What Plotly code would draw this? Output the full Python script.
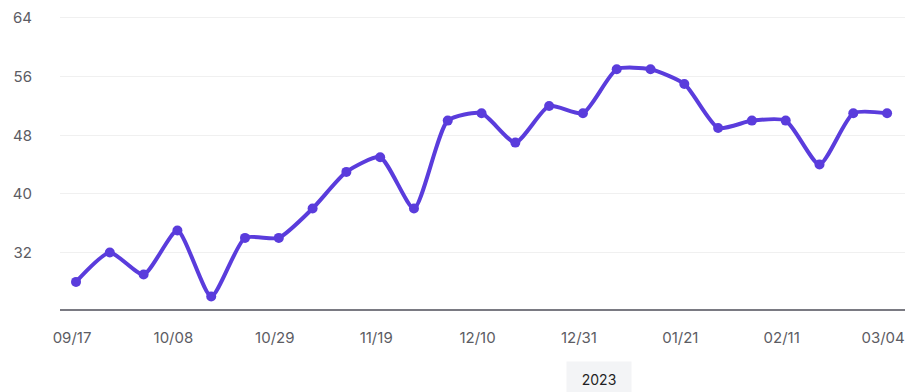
import plotly.graph_objects as go

weeks = ["09/17", "09/24", "10/01", "10/08", "10/15", "10/22", "10/29", "11/05",
         "11/12", "11/19", "11/26", "12/03", "12/10", "12/17", "12/24", "12/31",
         "01/07", "01/14", "01/21", "01/28", "02/04", "02/11", "02/18", "02/25", "03/04"]
values = [28, 32, 29, 35, 26, 34, 34, 38, 43, 45, 38, 50, 51, 47, 52, 51,
          57, 57, 55, 49, 50, 50, 44, 51, 51]
tick_labels = weeks[::3]
y_ticks = [32, 40, 48, 56, 64]
year_label = "2023"

idx = list(range(len(weeks)))

fig = go.Figure()
fig.add_trace(go.Scatter(
    x=idx, y=values, mode="lines+markers",
    line=dict(color="#5A3CDC", width=4, shape="spline", smoothing=0.6),
    marker=dict(color="#5A3CDC", size=10),
    hoverinfo="skip", showlegend=False,
))

fig.update_layout(
    width=923, height=392,
    margin=dict(l=60, r=18, t=8, b=83),
    paper_bgcolor="white", plot_bgcolor="white",
    font=dict(family="Inter, Lato, sans-serif", size=15, color="#5c5c63"),
    xaxis=dict(
        range=[-0.474, 24.53],
        tickvals=idx[::3], ticktext=tick_labels,
        showgrid=False, zeroline=False,
        showline=True, linecolor="#7a7a82", linewidth=2,
        ticks="", ticklabelstandoff=14, ticklabelshift=-4,
        tickfont=dict(size=15, color="#5c5c63"),
    ),
    yaxis=dict(
        range=[24.30, 64.95],
        tickvals=y_ticks,
        showgrid=True, gridcolor="#f0f0f0", gridwidth=1,
        zeroline=False, showline=False, ticks="",
        ticklabelstandoff=27,
        tickfont=dict(size=15, color="#5c5c63"),
    ),
)

fig.add_annotation(
    xref="paper", yref="paper", x=(599 - 60) / (923 - 60 - 18), y=-0.235,
    text=year_label, showarrow=False,
    font=dict(size=14, color="#1f1f24"),
    width=52, height=22,
    bgcolor="#f3f4f6", borderpad=6, yanchor="middle",
)

fig.write_html("out.html")
